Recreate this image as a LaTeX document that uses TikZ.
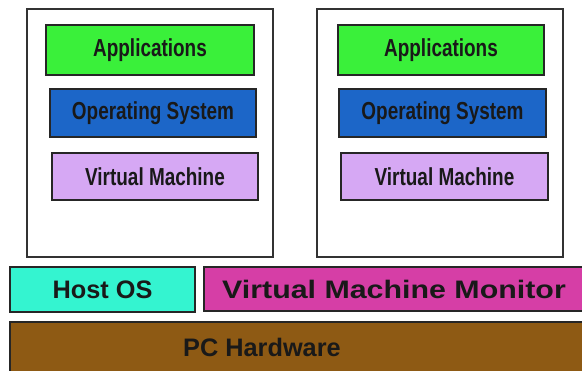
\documentclass[tikz,border=0pt]{standalone}
\usepackage{fontspec}
\setmainfont{Liberation Sans}
\newfontfamily\layerfont[FakeStretch=0.77]{Liberation Sans}
\newfontfamily\widefont[FakeStretch=1.2]{Liberation Sans}
\definecolor{appgreen}{RGB}{58,240,58}
\definecolor{osblue}{RGB}{28,102,200}
\definecolor{vmlilac}{RGB}{214,168,244}
\definecolor{hostcyan}{RGB}{52,244,208}
\definecolor{vmmpink}{RGB}{214,62,166}
\definecolor{hwbrown}{RGB}{142,90,20}
\tikzset{
  guest/.style={draw=black!80, line width=1.2pt},
  layer/.style={draw=black!85, line width=1.6pt},
  layertext/.style={font=\layerfont\bfseries\fontsize{17.5}{18}\selectfont, text=black!90},
  basetext/.style={font=\bfseries\fontsize{18}{20}\selectfont, text=black!90}
}
\begin{document}
\begin{tikzpicture}[x=0.25mm, y=-0.25mm]
            \useasboundingbox (0, 0) rectangle (582, 370);

            % left guest
            \draw[guest] (27, 9) rectangle (273, 257);
            \draw[layer, fill=appgreen] (46, 25) rectangle (254, 75) node[midway, layertext] (app1) {Applications};
            \draw[layer, fill=osblue] (50, 89) rectangle (256, 137) node[midway, layertext] (os1) {Operating System};
            \draw[layer, fill=vmlilac] (52, 153) rectangle (258, 200) node[midway, layertext] (vm1) {Virtual Machine};

            % right guest
            \draw[guest] (317, 9) rectangle (563, 257);
            \draw[layer, fill=appgreen] (338, 25) rectangle (544, 75) node[midway, layertext] (app2) {Applications};
            \draw[layer, fill=osblue] (339, 89) rectangle (546, 137) node[midway, layertext] (os2) {Operating System};
            \draw[layer, fill=vmlilac] (341, 153) rectangle (548, 200) node[midway, layertext] (vm2) {Virtual Machine};

            % host side
            \draw[layer, fill=hostcyan] (10, 267) rectangle (195, 312) node[midway, basetext] (host) {Host OS};
            \draw[layer, fill=vmmpink] (204, 267) rectangle (592, 311);
            \node[basetext, font=\widefont\bfseries\fontsize{18}{20}\selectfont] (vmm) at (394, 289) {Virtual Machine Monitor};
            \draw[layer, fill=hwbrown] (10, 322) rectangle (592, 380);
            \node[basetext] (hw) at (262, 347) {PC Hardware};
        \end{tikzpicture}
\end{document}
